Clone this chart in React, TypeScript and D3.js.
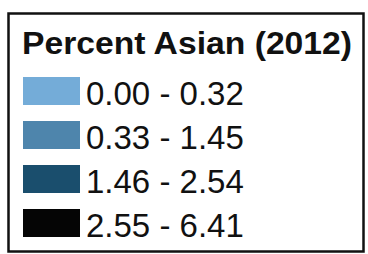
import React, { useEffect, useRef } from "react";
import * as d3 from "d3";

const title = "Percent Asian (2012)";
const classes = ["0.00 - 0.32", "0.33 - 1.45", "1.46 - 2.54", "2.55 - 6.41"];
const colors = ["#74acd8", "#4e85ac", "#1a4e6d", "#050505"];

export default function App() {
  const ref = useRef<SVGSVGElement>(null);

  useEffect(() => {
    const width = 368,
      height = 254;
    const svg = d3.select(ref.current);
    svg.selectAll("*").remove();

    svg
      .append("rect")
      .attr("width", width)
      .attr("height", height)
      .attr("fill", "#ffffff");

    // legend frame
    svg
      .append("rect")
      .attr("x", 8.5)
      .attr("y", 13.5)
      .attr("width", 355)
      .attr("height", 238)
      .attr("fill", "#ffffff")
      .attr("stroke", "#111")
      .attr("stroke-width", 2.5);

    svg
      .append("text")
      .attr("x", 22)
      .attr("y", 54)
      .attr("font-family", "Liberation Sans, Arial, sans-serif")
      .attr("font-weight", "bold")
      .attr("font-size", 31)
      .attr("textLength", 330)
      .attr("lengthAdjust", "spacingAndGlyphs")
      .attr("fill", "#111")
      .text(title);

    // rows: 28px swatch every 44px
    var y = d3.scaleBand().domain(classes).range([77, 237]).paddingInner(16 / 44).paddingOuter(0);
    var color = d3.scaleOrdinal<string, string>().domain(classes).range(colors);

    var row = svg
      .selectAll(".row")
      .data(classes)
      .enter()
      .append("g")
      .attr("class", "row")
      .attr("transform", function (d) {
        return "translate(0," + y(d) + ")";
      });

    row
      .append("rect")
      .attr("x", 23)
      .attr("width", 57)
      .attr("height", y.bandwidth())
      .attr("fill", function (d) {
        return color(d);
      });

    row
      .append("text")
      .attr("x", 86)
      .attr("y", 28)
      .attr("font-family", "Liberation Sans, Arial, sans-serif")
      .attr("font-size", 33)
      .attr("fill", "#111")
      .text(function (d) {
        return d;
      });
  }, []);

  return (
    <svg
      ref={ref}
      width={368}
      height={254}
      style={{ position: "absolute", left: 0, top: 0, display: "block" }}
    />
  );
}
